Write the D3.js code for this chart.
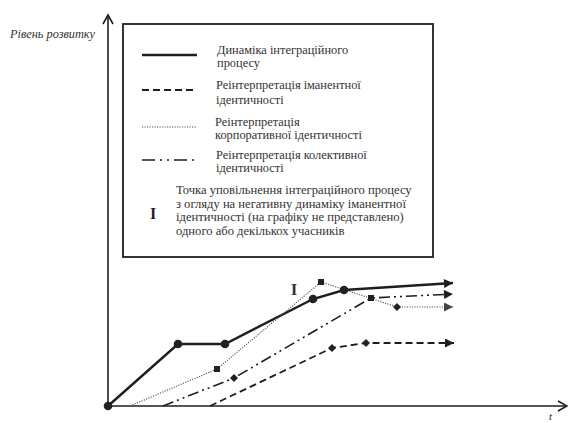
<!DOCTYPE html>
<html><head><meta charset="utf-8">
<script src="https://cdn.jsdelivr.net/npm/d3@7"></script>
<style>html,body{margin:0;padding:0;background:#fff;overflow:hidden}</style>
</head><body>
<svg id="c" width="568" height="423"></svg>
<script>
// Data (x: time units, y: level of development units)
const seriesNames = ["Динаміка інтеграційного процесу","Реінтерпретація іманентної ідентичності","Реінтерпретація корпоративної ідентичності","Реінтерпретація колективної ідентичності"];
const integrationX = [0, 7.0, 11.7, 20.5, 23.6, 34.5];
const integrationY = [0, 6.2, 6.2, 10.7, 11.6, 12.3];
const immanentX = [10.2, 22.4, 25.8, 34.6];
const immanentY = [0, 5.8, 6.3, 6.3];
const corporateX = [2.2, 10.9, 21.3, 28.9, 34.5];
const corporateY = [0, 3.7, 12.4, 9.9, 9.9];
const collectiveX = [5.5, 12.6, 26.3, 34.5];
const collectiveY = [0, 2.8, 10.8, 11.2];
const slowPoint = [18.6, 11.1];
const legendLabels = [["Динаміка інтеграційного","процесу"],["Реінтерпретація іманентної","ідентичності"],["Реінтерпретація","корпоративної ідентичності"],["Реінтерпретація колективної","ідентичності"]];
const noteLines = ["Точка уповільнення інтеграційного процесу","з огляду на негативну динаміку іманентної","ідентичності (на графіку не представлено)","одного або декількох учасників"];

const svg = d3.select("#c");
const x = d3.scaleLinear().domain([0, 45]).range([108, 558]);
const y = d3.scaleLinear().domain([0, 39.1]).range([406, 15]);
const ink = "#1e1e1e";
const serif = "Liberation Serif";

const defs = svg.append("defs");
["m1","m2","m3","m4"].forEach((id,i)=>{
  defs.append("marker").attr("id",id).attr("viewBox","0 0 10 10").attr("refX",10).attr("refY",5)
    .attr("markerWidth",11).attr("markerHeight",9).attr("markerUnits","userSpaceOnUse").attr("orient","auto")
    .append("path").attr("d","M0,0L10,5L0,10Z").attr("fill", i===2 ? "#444" : ink);
});

// axes
svg.append("line").attr("x1",x(0)).attr("y1",y(0)).attr("x2",x(0)).attr("y2",y(39.1)).attr("stroke",ink).attr("stroke-width",1.6);
svg.append("path").attr("d",`M${x(0)-5},${y(39.1)+9}L${x(0)},${y(39.1)}L${x(0)+5},${y(39.1)+9}`).attr("fill","none").attr("stroke",ink).attr("stroke-width",1.6);
svg.append("line").attr("x1",x(0)).attr("y1",y(0)).attr("x2",x(45.9)).attr("y2",y(0)).attr("stroke",ink).attr("stroke-width",1.6);
svg.append("path").attr("d",`M${x(45.9)-9},${y(0)-5}L${x(45.9)},${y(0)}L${x(45.9)-9},${y(0)+5}`).attr("fill","none").attr("stroke",ink).attr("stroke-width",1.6);
svg.append("text").attr("x",10).attr("y",38).attr("font-family",serif).attr("font-style","italic").attr("font-size",12.3).attr("fill","#333").text("Рівень розвитку");
svg.append("text").attr("x",549).attr("y",420).attr("font-family",serif).attr("font-style","italic").attr("font-size",11).attr("fill",ink).text("t");

const line = d3.line().x(d=>x(d[0])).y(d=>y(d[1]));
const zip = (a,b)=>a.map((v,i)=>[v,b[i]]);

const styles = [
  {dash:null, w:2.4, c:ink, m:"m1"},
  {dash:"7,4", w:1.8, c:ink, m:"m2"},
  {dash:"1.2,1.3", w:1.1, c:"#555", m:"m3"},
  {dash:"11,4,2,4,2,4", w:1.6, c:ink, m:"m4"}
];
const data = [zip(integrationX,integrationY), zip(immanentX,immanentY), zip(corporateX,corporateY), zip(collectiveX,collectiveY)];

data.forEach((d,i)=>{
  svg.append("path").datum(d).attr("d",line).attr("fill","none").attr("stroke",styles[i].c)
    .attr("stroke-width",styles[i].w).attr("stroke-dasharray",styles[i].dash).attr("marker-end",`url(#${styles[i].m})`);
});

// markers
const circles = data[0].slice(0,5);
svg.selectAll("circle.p").data(circles).enter().append("circle").attr("cx",d=>x(d[0])).attr("cy",d=>y(d[1])).attr("r",4.3).attr("fill","#222");
const squares = [data[2][1], data[2][2], data[3][2]];
svg.selectAll("rect.p").data(squares).enter().append("rect").attr("x",d=>x(d[0])-3).attr("y",d=>y(d[1])-3).attr("width",6).attr("height",6).attr("fill","#222");
const diamonds = [data[1][1], data[1][2], data[3][1], data[2][3]];
svg.selectAll("path.dm").data(diamonds).enter().append("path")
  .attr("d",d=>`M${x(d[0])},${y(d[1])-4}L${x(d[0])+4},${y(d[1])}L${x(d[0])},${y(d[1])+4}L${x(d[0])-4},${y(d[1])}Z`).attr("fill","#222");

svg.append("text").attr("x",x(slowPoint[0])).attr("y",y(slowPoint[1])).attr("text-anchor","middle").attr("font-family",serif).attr("font-weight","bold").attr("font-size",17).attr("fill","#333").text("I");

// legend
const lg = svg.append("g");
lg.append("rect").attr("x",123).attr("y",24).attr("width",310).attr("height",233).attr("fill","none").attr("stroke",ink).attr("stroke-width",1.8);
const rowY = [55, 90, 127, 160];
const textX = [217, 216, 215, 216];
const textBase = [[54, 67], [89, 104], [126, 139], [159, 172]];
legendLabels.forEach((lab,i)=>{
  lg.append("line").attr("x1",142).attr("x2",197).attr("y1",rowY[i]).attr("y2",rowY[i])
    .attr("stroke",styles[i].c).attr("stroke-width", i===2?1.1:styles[i].w)
    .attr("stroke-dasharray", i===3 ? "13,5,2,5,2,5" : styles[i].dash);
  lab.forEach((t,j)=>{
    lg.append("text").attr("x",textX[i]).attr("y",textBase[i][j]).attr("font-family",serif).attr("font-size",12.4).attr("fill","#333").text(t);
  });
});
lg.append("text").attr("x",153).attr("y",219).attr("text-anchor","middle").attr("font-family",serif).attr("font-weight","bold").attr("font-size",16).attr("fill",ink).text("I");
noteLines.forEach((t,j)=>{
  lg.append("text").attr("x",176).attr("y",194+j*13.7).attr("font-family",serif).attr("font-size",12.6).attr("fill","#333").text(t);
});
</script>
</body></html>
